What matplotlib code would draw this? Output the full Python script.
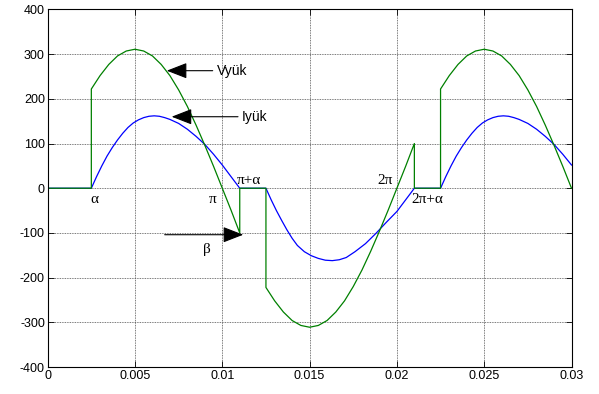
import matplotlib
matplotlib.use("Agg")
import matplotlib.pyplot as plt

# ---- data ----
v_t = [0, 0.0025, 0.0025, 0.003, 0.0035, 0.004, 0.0045, 0.005, 0.0055, 0.006, 0.0065,
       0.007, 0.0075, 0.008, 0.0085, 0.009, 0.0095, 0.010, 0.0105, 0.011, 0.011,
       0.0125, 0.0125, 0.013, 0.0135, 0.014, 0.0145, 0.015, 0.0155, 0.016, 0.0165,
       0.017, 0.0175, 0.018, 0.0185, 0.019, 0.0195, 0.020, 0.0205, 0.021, 0.021,
       0.0225, 0.0225, 0.023, 0.0235, 0.024, 0.0245, 0.025, 0.0255, 0.026, 0.0265,
       0.027, 0.0275, 0.028, 0.0285, 0.029, 0.0295, 0.030]
v_val = [0, 0, 222, 252, 277, 296, 307, 311, 307, 296, 277,
         252, 220, 183, 141, 96, 49, 0, -49, -100, 0,
         0, -222, -252, -277, -296, -307, -311, -307, -296, -277,
         -252, -220, -183, -141, -96, -49, 0, 49, 100, 0,
         0, 222, 252, 277, 296, 307, 311, 307, 296, 277,
         252, 220, 183, 141, 96, 49, 0]

i_t = [0, 0.0025, 0.0028, 0.0031, 0.0034, 0.0037, 0.0040, 0.0043, 0.0046, 0.0049,
       0.0052, 0.0055, 0.0058, 0.0061, 0.0064, 0.0067, 0.0070, 0.0075, 0.0080,
       0.0085, 0.0090, 0.0095, 0.0100, 0.0105, 0.011,
       0.0125, 0.0128, 0.0131, 0.0134, 0.0137, 0.0140, 0.0143, 0.0147, 0.0151,
       0.0155, 0.0159, 0.0163, 0.0167, 0.0171, 0.0176, 0.0182, 0.0188, 0.0194,
       0.0200, 0.0205, 0.021,
       0.0225, 0.0228, 0.0231, 0.0234, 0.0237, 0.0240, 0.0243, 0.0246, 0.0249,
       0.0252, 0.0255, 0.0258, 0.0261, 0.0264, 0.0267, 0.0270, 0.0275, 0.0280,
       0.0285, 0.0290, 0.0295, 0.0300]
i_val = [0, 0, 26, 50, 72, 91, 108, 123, 136, 146,
         153, 158, 161, 162, 161, 158, 154, 145, 132,
         116, 98, 76, 52, 26, 0,
         0, -26, -50, -72, -93, -112, -128, -142, -151,
         -157, -161, -162, -160, -155, -142, -124, -101, -76,
         -52, -26, 0,
         0, 26, 50, 72, 91, 108, 123, 136, 146,
         153, 158, 161, 162, 161, 158, 154, 145, 132,
         116, 98, 76, 52]

x_ticks = [0, 0.005, 0.01, 0.015, 0.02, 0.025, 0.03]
x_labels = ["0", "0.005", "0.01", "0.015", "0.02", "0.025", "0.03"]
y_ticks = [-400, -300, -200, -100, 0, 100, 200, 300, 400]
y_labels = ["-400", "-300", "-200", "-100", "0", "100", "200", "300", "400"]

angle_labels = ["α", "π", "π+α", "2π", "2π+α"]
angle_x = [0.0027, 0.00947, 0.01153, 0.01933, 0.02172]
angle_y = [-25, -25, 18, 18, -25]

# ---- figure ----
fig = plt.figure(figsize=(5.99, 3.94), dpi=100)
ax = fig.add_axes([0.0796, 0.0685, 0.8745, 0.9075])

ax.plot(i_t, i_val, color="#0000ff", lw=0.9)
ax.plot(v_t, v_val, color="#008000", lw=0.9)

ax.set_xlim(0, 0.03)
ax.set_ylim(-400, 400)
ax.set_xticks(x_ticks)
ax.set_xticklabels(x_labels)
ax.set_yticks(y_ticks)
ax.set_yticklabels(y_labels)
ax.tick_params(direction="in", top=True, right=True, length=4, width=0.6,
               labelsize=9, pad=2)
for lab in ax.get_xticklabels() + ax.get_yticklabels():
    lab.set_family("Liberation Sans")
ax.grid(True, color="0.3", linestyle=(0, (1, 1)), lw=0.6)
for s in ax.spines.values():
    s.set_linewidth(0.8)
    s.set_color("black")

arrow_kw = dict(arrowstyle="-|>,head_length=0.9,head_width=0.35",
                color="black", lw=0.8, mutation_scale=14, shrinkA=0, shrinkB=0)

ax.annotate("", xy=(0.00682, 263), xytext=(0.00945, 263), arrowprops=arrow_kw)
ax.text(0.00968, 263, "Vyük", fontsize=10, family="Liberation Sans",
        va="center", ha="left")

ax.annotate("", xy=(0.0071, 160), xytext=(0.0109, 160), arrowprops=arrow_kw)
ax.text(0.01111, 160, "Iyük", fontsize=10, family="Liberation Sans",
        va="center", ha="left")

ax.annotate("", xy=(0.0112, -104), xytext=(0.0067, -104), arrowprops=arrow_kw)
ax.text(0.00913, -138, "β", fontsize=11, family="Liberation Serif",
        va="center", ha="center")

for lab, x, y in zip(angle_labels, angle_x, angle_y):
    ax.text(x, y, lab, fontsize=11, family="Liberation Serif",
            va="center", ha="center")

fig.savefig("out.png", dpi=100)
